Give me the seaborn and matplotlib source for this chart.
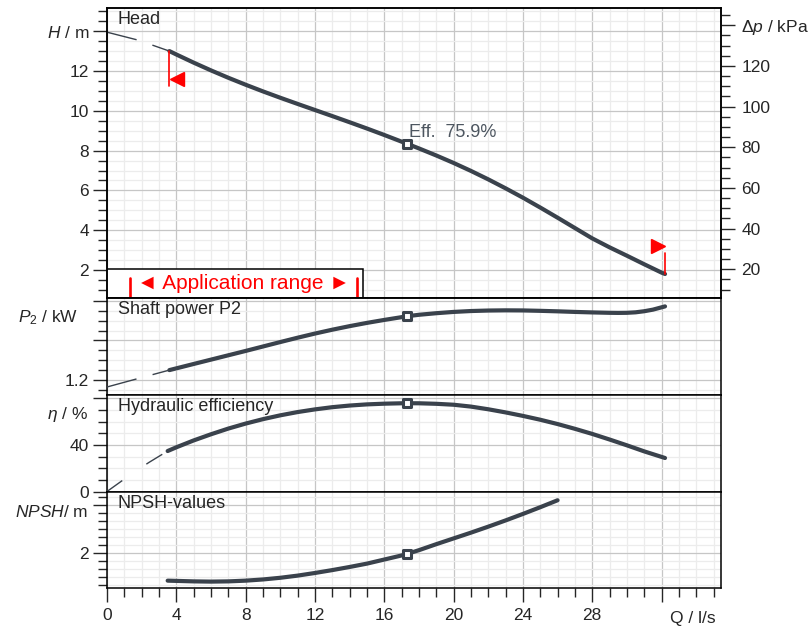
import numpy as np
import seaborn as sns
import matplotlib.pyplot as plt
from matplotlib.patches import Rectangle
from matplotlib.transforms import offset_copy

sns.set_style('white')
plt.rcParams['font.family'] = ['Liberation Sans', 'DejaVu Sans']
plt.rcParams['mathtext.fontset'] = 'custom'
plt.rcParams['mathtext.rm'] = 'Liberation Sans'
plt.rcParams['mathtext.it'] = 'Liberation Sans:italic'
plt.rcParams['lines.scale_dashes'] = False

# flow Q in l/s
q_head = [3.6, 4, 5, 6, 7, 8, 9, 10, 11, 12, 13, 14, 15, 16, 17, 17.3, 18, 19, 20,
          21, 22, 23, 24, 25, 26, 27, 28, 29, 30, 31, 32, 32.2]
head = [13.0, 12.83, 12.42, 12.03, 11.66, 11.31, 10.975, 10.655, 10.345, 10.04,
        9.735, 9.425, 9.11, 8.785, 8.45, 8.35, 8.11, 7.755, 7.38, 6.98, 6.555,
        6.105, 5.635, 5.14, 4.63, 4.11, 3.59, 3.14, 2.72, 2.29, 1.87, 1.80]
q_head_ext = [0, 1.8, 3.6]
head_ext = [13.95, 13.55, 13.0]

q_power = [3.6, 5, 6, 7, 8, 9, 10, 11, 12, 13, 14, 15, 16, 17, 17.3, 18, 19, 20, 21,
           22, 23, 24, 25, 26, 27, 28, 29, 29.5, 30, 30.5, 31, 31.5, 32.2]
power = [1.30, 1.362, 1.406, 1.450, 1.494, 1.539, 1.584, 1.628, 1.670, 1.709,
         1.745, 1.778, 1.808, 1.836, 1.845, 1.860, 1.876, 1.889, 1.898, 1.903,
         1.905, 1.904, 1.900, 1.895, 1.889, 1.884, 1.880, 1.879, 1.880, 1.885,
         1.896, 1.912, 1.945]
q_power_ext = [0, 1.8, 3.6]
power_ext = [1.129, 1.215, 1.30]

q_eff = [3.5, 4, 5, 6, 7, 8, 9, 10, 11, 12, 13, 14, 15, 16, 17, 17.3, 18, 19, 20,
         21, 22, 23, 24, 25, 26, 27, 28, 29, 30, 31, 32.2]
eff = [34.8, 38.0, 43.9, 49.2, 54.1, 58.4, 62.2, 65.5, 68.3, 70.6, 72.5, 73.9,
       74.9, 75.5, 75.85, 75.9, 75.85, 75.4, 74.6, 73.0, 70.7, 68.0, 65.0, 61.7,
       58.0, 53.9, 49.5, 44.7, 39.7, 34.5, 28.8]
q_eff_ext = [0, 1.2, 2.4, 3.5]
eff_ext = [0, 12.8, 24.8, 34.8]

q_npsh = [3.5, 4, 5, 6, 7, 8, 9, 10, 11, 12, 13, 14, 15, 16, 17, 17.3, 18, 19, 20,
          21, 22, 23, 24, 25, 26]
npsh = [0.86, 0.85, 0.83, 0.82, 0.83, 0.86, 0.91, 0.98, 1.07, 1.18, 1.30, 1.43,
        1.57, 1.74, 1.91, 1.97, 2.13, 2.38, 2.62, 2.86, 3.11, 3.37, 3.64, 3.92, 4.21]

q_bep = 17.3
eff_bep = 75.9
app_range = [1.33, 14.4]
RHO_G = 9.79  # kPa per m

CURVE = '#3a424c'
RED = '#ff0000'
QMAX = 35.43

fig = plt.figure(figsize=(8.11, 6.28), dpi=100)


def panel(top, bottom):
    return fig.add_axes([107 / 811, 1 - bottom / 628, 614 / 811, (bottom - top) / 628])


ax_h = panel(7.5, 297.5)
ax_p = panel(297.5, 394.5)
ax_e = panel(394.5, 491.5)
ax_n = panel(491.5, 588)


def style(ax, ylim, major, labels, minor):
    ax.set_xlim(0, QMAX)
    ax.set_ylim(*ylim)
    ax.set_xticks(np.arange(0, 33, 4))
    ax.set_xticks(np.arange(0, 36, 1), minor=True)
    ax.set_yticks(major, labels)
    ax.set_yticks(minor, minor=True)
    ax.grid(which='major', color='#c6c6c6', lw=0.9)
    ax.grid(which='minor', color='#ececec', lw=0.9)
    ax.set_axisbelow(True)
    for s in ax.spines.values():
        s.set_color('black')
        s.set_linewidth(1.1)
    ax.tick_params(axis='y', which='major', direction='out', length=10, width=1,
                   pad=3, labelsize=12.5, left=True)
    ax.tick_params(axis='y', which='minor', direction='out', length=6.5, width=1, left=True)
    ax.tick_params(axis='x', which='both', bottom=False, labelbottom=False)


style(ax_h, (0.62, 15.19), [2, 4, 6, 8, 10, 12, 14],
      ['2', '4', '6', '8', '10', '12', '$H$ / m'], np.arange(1, 15.1, 0.5))
style(ax_p, (1.053, 2.035), [1.2, 1.6, 2.0], ['1.2', '', ''], np.arange(1.1, 2.05, 0.1))
style(ax_e, (0, 83.4), [0, 40, 80], ['0', '40', ''], np.arange(0, 83, 10))
style(ax_n, (0.554, 4.575), [2, 4], ['2', ''], np.arange(2 / 3, 4.6, 1 / 3))

ax_n.set_xticks(np.arange(0, 33, 4), ['0', '4', '8', '12', '16', '20', '24', '28', ''])
ax_n.tick_params(axis='x', which='major', bottom=True, labelbottom=True, length=10,
                 width=1, pad=4.5, labelsize=12.5)
ax_n.tick_params(axis='x', which='minor', bottom=True, length=6.5, width=1)
ax_n.annotate('Q / l/s', xy=(32, 0), xycoords=('data', 'axes fraction'),
              xytext=(8, -30), textcoords='offset pixels', fontsize=12.5,
              ha='left', va='center')

# right pressure axis
ax_dp = ax_h.twinx()
ax_dp.set_ylim(np.array(ax_h.get_ylim()) * RHO_G)
ax_dp.set_yticks([20, 40, 60, 80, 100, 120, 140],
                 ['20', '40', '60', '80', '100', '120', r'$\Delta p$ / kPa'])
ax_dp.set_yticks(np.arange(10, 150, 5), minor=True)
ax_dp.tick_params(axis='y', which='major', direction='out', length=10, width=1,
                  pad=4.5, labelsize=12.5, right=True)
ax_dp.tick_params(axis='y', which='minor', direction='out', length=6.5, width=1, right=True)
ax_dp.grid(False)
for s in ax_dp.spines.values():
    s.set_color('black')
    s.set_linewidth(1.1)


def curve(ax, x, y):
    sns.lineplot(x=x, y=y, ax=ax, color=CURVE, linewidth=3, solid_capstyle='round',
                 solid_joinstyle='round', errorbar=None, sort=False, zorder=4)


def extension(ax, x, y, dash):
    sns.lineplot(x=x, y=y, ax=ax, color=CURVE, linewidth=1, linestyle=(0, dash),
                 errorbar=None, sort=False, zorder=4)


def bep(ax, x, y):
    sns.scatterplot(x=[x], y=[y], ax=ax, marker='s', s=38, color='white',
                    edgecolor=CURVE, linewidth=2.2, zorder=6, clip_on=False)


curve(ax_h, q_head, head)
extension(ax_h, q_head_ext, head_ext, (22, 12))
curve(ax_p, q_power, power)
extension(ax_p, q_power_ext, power_ext, (22, 12))
curve(ax_e, q_eff, eff)
extension(ax_e, q_eff_ext, eff_ext, (13.5, 21))
curve(ax_n, q_npsh, npsh)

h_bep = head[q_head.index(q_bep)]
bep(ax_h, q_bep, h_bep)
bep(ax_p, q_bep, power[q_power.index(q_bep)])
bep(ax_e, q_bep, eff[q_eff.index(q_bep)])
bep(ax_n, q_bep, npsh[q_npsh.index(q_bep)])

ax_h.annotate(f'Eff.  {eff_bep}%', xy=(q_bep, h_bep), xytext=(2, 11),
              textcoords='offset pixels', color='#4d5660', fontsize=13,
              ha='left', va='center', zorder=7)

# red markers at the ends of the head curve
h_px = (15.19 - 0.62) / 290
q0, h0 = q_head[0], head[0]
q1, h1 = q_head[-1], head[-1]
ax_h.plot([q0, q0], [h0, h0 - 35 * h_px], color=RED, lw=1.2, zorder=5)
ax_h.plot([q1, q1], [h1, h1 + 21 * h_px], color=RED, lw=1.2, zorder=5)
ax_h.plot([q0], [h0], marker='<', ms=10.5, color=RED, ls='none', zorder=5,
          transform=offset_copy(ax_h.transData, fig=fig, x=7.5, y=-28, units='dots'))
ax_h.plot([q1], [h1], marker='>', ms=10.5, color=RED, ls='none', zorder=5,
          transform=offset_copy(ax_h.transData, fig=fig, x=-7.5, y=28, units='dots'))

# application range box
ylo = ax_h.get_ylim()[0]
box_top = 2.03
ax_h.add_patch(Rectangle((0, ylo), app_range[1] + 0.37, box_top - ylo, facecolor='white',
                         edgecolor='black', lw=1.1, zorder=3))
for q in app_range:
    ax_h.plot([q, q], [ylo, 1.62], color=RED, lw=1.9, zorder=4)
ax_h.text(sum(app_range) / 2, (ylo + box_top) / 2, '◄ Application range ►', color=RED,
          fontsize=15, ha='center', va='center', zorder=5)

# panel titles and left axis names
for ax, title in [(ax_h, 'Head'), (ax_p, 'Shaft power P2'),
                  (ax_e, 'Hydraulic efficiency'), (ax_n, 'NPSH-values')]:
    ax.annotate(title, xy=(0, 1), xycoords='axes fraction', xytext=(11, -12),
                textcoords='offset pixels', fontsize=13, ha='left', va='center', zorder=7)

for ax, name, dx in [(ax_p, '$P_2$ / kW', -29), (ax_e, r'$\eta$ / %', -19),
                     (ax_n, '$NPSH$/ m', -19)]:
    ax.annotate(name, xy=(0, 1), xycoords='axes fraction', xytext=(dx, -20.5),
                textcoords='offset pixels', fontsize=12.5, ha='right', va='center',
                annotation_clip=False)

fig.savefig('out.png', dpi=100)
